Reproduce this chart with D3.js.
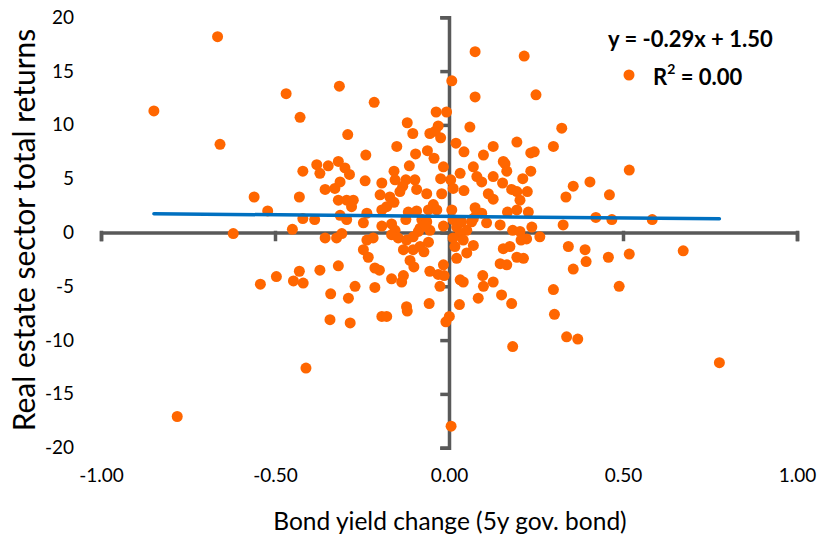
<!DOCTYPE html>
<html>
<head>
<meta charset="utf-8">
<script src="https://cdn.jsdelivr.net/npm/d3@7"></script>
<style>
  body { margin: 0; background: #fff; }
  text { font-family: Lato, "Open Sans", sans-serif; fill: #000; }
</style>
</head>
<body>
<div id="chart"></div>
<script>
const width = 828;
const height = 534;

// bond yield change (x) and real estate total returns (y)
const bondChange = [
  -0.665, -0.468, -0.428, -0.848, -0.658, 0.075, 0.216, 0.008, -0.315, 0.075,
  0.25, -0.215, -0.037, -0.007, -0.12, 0.06, 0.324, -0.291, -0.104, -0.055,
  -0.031, -0.04, -0.024, 0.02, 0.043, 0.127, 0.195, 0.235, 0.245, 0.30,
  -0.15, -0.239, -0.096, -0.062, -0.043, -0.318, 0.099, 0.156, -0.42, -0.38,
  -0.371, -0.347, -0.356, -0.43, -0.56, -0.521, -0.42, -0.386, -0.45, -0.62,
  -0.356, -0.43, -0.371, -0.496, -0.542, -0.447, -0.419, -0.34, -0.299, -0.286,
  -0.241, -0.158, -0.155, -0.193, -0.114, -0.124, -0.098, -0.093, -0.133, -0.141,
  -0.064, -0.016, -0.024, 0.005, -0.021, 0.012, 0.032, 0.043, 0.07, 0.08,
  0.094, 0.127, 0.161, 0.166, 0.154, 0.113, 0.127, 0.212, 0.235, 0.18,
  0.195, 0.225, 0.204, 0.336, -0.328, -0.313, -0.318, -0.294, -0.275, -0.28,
  -0.198, -0.17, -0.158, -0.179, -0.193, -0.236, -0.313, -0.294, -0.246, -0.193,
  -0.165, -0.155, -0.117, -0.093, -0.124, -0.078, -0.064, -0.059, -0.045, -0.035,
  -0.083, -0.055, -0.088, -0.069, -0.016, 0.008, 0.012, 0.022, 0.036, 0.051,
  0.032, 0.075, 0.08, 0.094, 0.07, 0.065, 0.108, 0.147, 0.168, 0.195,
  0.228, 0.183, 0.204, 0.238, 0.261, 0.223, 0.207, 0.328, 0.343, -0.323,
  -0.308, -0.236, -0.218, -0.246, -0.232, -0.165, -0.146, -0.122, -0.103, -0.083,
  -0.059, -0.131, -0.103, -0.072, -0.112, -0.101, 0.012, 0.017, 0.041, 0.051,
  0.07, 0.022, -0.016, -0.031, -0.014, -0.055, -0.131, -0.136, -0.165, -0.213,
  -0.2, -0.318, -0.27, -0.213, -0.289, -0.122, -0.057, -0.026, 0.032, 0.041,
  0.097, 0.127, 0.099, 0.147, 0.166, 0.156, 0.175, 0.195, 0.214, 0.30,
  0.151, 0.18, 0.084, 0.03, 0.518, 0.405, 0.357, 0.461, 0.422, 0.468,
  0.584, 0.391, 0.394, 0.357, 0.458, 0.518, 0.673, 0.489, -0.342, -0.411,
  -0.781, -0.284, -0.193, -0.179, -0.12, 0.001, -0.009, 0.303, 0.338, 0.183,
  0.006, 0.37, 0.777
];
const estateReturn = [
  18.2, 12.9, 10.7, 11.3, 8.2, 16.8, 16.4, 14.1, 13.6, 12.6,
  12.8, 12.1, 11.2, 11.2, 10.2, 9.8, 9.7, 9.1, 9.2, 9.2,
  9.9, 9.4, 8.8, 8.3, 7.5, 8.0, 8.4, 7.4, 7.5, 8.0,
  8.0, 7.2, 7.3, 7.6, 6.9, 6.6, 7.2, 6.6, 5.7, 6.3,
  5.5, 6.2, 4.0, 3.3, 3.3, 2.0, 1.3, 1.2, 0.3, -0.1,
  -0.5, -3.6, -3.5, -4.1, -4.8, -4.5, -4.7, -5.7, 6.0, 5.4,
  4.8, 5.7, 4.9, 4.6, 6.2, 4.9, 4.9, 4.0, 4.3, 3.8,
  3.6, 6.1, 5.0, 4.9, 3.6, 4.1, 5.5, 3.9, 6.1, 5.2,
  4.7, 5.2, 6.4, 5.7, 4.6, 3.6, 3.1, 5.0, 5.7, 4.0,
  3.8, 3.8, 3.0, 3.3, 4.1, 4.7, 3.0, 3.0, 3.0, 2.4,
  3.5, 3.3, 2.8, 2.4, 2.1, 1.8, 1.6, 1.2, 0.9, 0.6,
  0.8, 0.2, 1.9, 2.0, 1.2, 1.2, 1.0, 2.1, 2.6, 2.1,
  0.4, 0.2, 0.1, 0.7, 0.6, 2.1, 1.2, 0.5, 1.0, 0.2,
  -0.1, 2.3, 1.8, 1.8, 1.3, 1.0, 0.9, 0.7, 1.9, 2.1,
  1.9, 0.2, 0.1, 0.5, -0.4, -0.6, -0.7, 0.7, -1.3, -0.5,
  -0.1, -0.7, -0.5, -1.6, -2.3, -0.2, -0.5, -0.7, -0.4, -1.3,
  -0.9, -1.6, -1.6, -1.8, -2.6, -3.2, -0.5, -1.3, -0.7, -1.9,
  -1.2, -2.4, -3.0, -3.9, -4.0, -3.6, -4.0, -4.6, -4.3, -3.3,
  -3.5, -3.1, -5.0, -5.1, -6.1, -6.9, -6.6, -5.0, -4.4, -4.6,
  -4.0, -4.6, -5.0, -2.9, -3.0, -1.5, -1.3, -2.3, -2.4, -5.3,
  -5.8, -6.6, -6.1, -6.7, 5.8, 4.7, 4.3, 3.5, 1.4, 1.2,
  1.2, -1.6, -2.7, -3.4, -2.3, -2.0, -1.7, -5.0, -8.1, -12.6,
  -17.1, -8.4, -7.8, -7.8, -7.3, -7.8, -8.3, -7.6, -9.7, -10.6,
  -18.0, -9.9, -12.1
];

// trendline shown on the chart
const slope = -0.29;
const intercept = 1.50;
const equationLabel = "y = -0.29x + 1.50";

const xTicks = [-1, -0.5, 0, 0.5, 1];
const yTicks = [-20, -15, -10, -5, 0, 5, 10, 15, 20];

const data = bondChange.map((b, i) => ({ x: b, y: estateReturn[i] }));

const svg = d3
  .select("#chart")
  .append("svg")
  .attr("width", width)
  .attr("height", height);

const x = d3.scaleLinear().domain([-1, 1]).range([101, 797]);
const y = d3.scaleLinear().domain([-20, 20]).range([447.7, 17.3]);

const axisColor = "#595959";

//-------axes crossing at the origin-------//
const xAxis = svg
  .append("g")
  .attr("transform", `translate(0,${y(0)})`)
  .call(
    d3.axisBottom(x).tickValues(xTicks).tickSize(7).tickSizeOuter(7).tickFormat("")
  );
const yAxis = svg
  .append("g")
  .attr("transform", `translate(${x(0)},0)`)
  .call(
    d3.axisLeft(y).tickValues(yTicks).tickSize(7).tickSizeOuter(7).tickFormat("")
  );
[xAxis, yAxis].forEach((g) => {
  g.selectAll("path, line")
    .attr("stroke", axisColor)
    .attr("stroke-width", 3.5)
    .attr("stroke-linecap", "square");
});

//-------tick labels at the low side-------//
svg
  .append("g")
  .attr("transform", "translate(0,465)")
  .call(d3.axisBottom(x).tickValues(xTicks).tickSize(0).tickFormat((d) => d.toFixed(2)))
  .call((g) => g.select(".domain").remove())
  .selectAll("text")
  .style("font-family", "Lato, sans-serif")
  .style("font-size", "19px")
  .attr("fill", "#000");

svg
  .append("g")
  .attr("transform", "translate(74,0)")
  .call(d3.axisLeft(y).tickValues(yTicks).tickSize(0).tickPadding(0).tickFormat((d) => String(d)))
  .call((g) => g.select(".domain").remove())
  .selectAll("text")
  .style("font-family", "Lato, sans-serif")
  .style("font-size", "19px")
  .attr("fill", "#000");

//-------points-------//
svg
  .append("g")
  .selectAll("circle")
  .data(data)
  .join("circle")
  .attr("cx", (d) => x(d.x))
  .attr("cy", (d) => y(d.y))
  .attr("r", 5.5)
  .attr("fill", "#FF6600");

//-------trendline over the data range-------//
const xExt = d3.extent(bondChange);
svg
  .append("line")
  .attr("x1", x(xExt[0]))
  .attr("y1", y(slope * xExt[0] + intercept))
  .attr("x2", x(xExt[1]))
  .attr("y2", y(slope * xExt[1] + intercept))
  .attr("stroke", "#0070C0")
  .attr("stroke-width", 3.5)
  .attr("stroke-linecap", "round");

//-------titles-------//
svg
  .append("text")
  .attr("x", 450)
  .attr("y", 520)
  .attr("text-anchor", "middle")
  .attr("dominant-baseline", "central")
  .style("font-size", "24.5px")
  .text("Bond yield change (5y gov. bond)");

svg
  .append("text")
  .attr("transform", "translate(23,230) rotate(-90)")
  .attr("text-anchor", "middle")
  .attr("dominant-baseline", "central")
  .style("font-size", "30px")
  .text("Real estate sector total returns");

//-------equation and legend-------//
svg
  .append("text")
  .attr("x", 608)
  .attr("y", 38)
  .attr("dominant-baseline", "central")
  .style("font-size", "22px")
  .style("font-weight", "bold")
  .text(equationLabel);

svg
  .append("circle")
  .attr("cx", 629)
  .attr("cy", 75)
  .attr("r", 5.5)
  .attr("fill", "#FF6600");

const r2 = svg
  .append("text")
  .attr("x", 653)
  .attr("y", 76)
  .attr("dominant-baseline", "central")
  .style("font-size", "22px")
  .style("font-weight", "bold");
r2.append("tspan").text("R");
r2.append("tspan").attr("dy", -8).style("font-size", "14px").text("2");
r2.append("tspan").attr("dy", 8).text(" = 0.00");
</script>
</body>
</html>
